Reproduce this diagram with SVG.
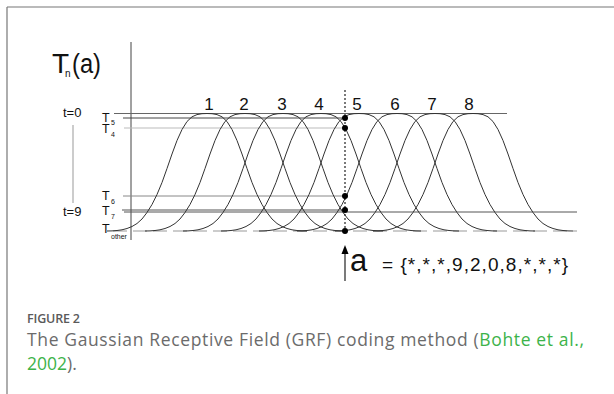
<svg xmlns="http://www.w3.org/2000/svg" xmlns:xlink="http://www.w3.org/1999/xlink" width="614" height="394" viewBox="0 0 614 394">
<style>
.lbl{font-family:"Liberation Sans",Arial,sans-serif;fill:#111}
.cap{font-family:"Open Sans","Liberation Sans",sans-serif}
.crv{fill:none;stroke:#333;stroke-width:1;stroke-linejoin:round}
.lvl{stroke-width:1;fill:none}
</style>
<defs>
<path id="rf" d="M-100,0 L-95,-0.1 L-90,-0.5 L-85,-1.2 L-80,-2.5 L-75,-4.5 L-70,-7.5 L-65,-12 L-60,-18.5 L-55,-26.5 L-50,-36.5 L-45,-48.5 L-40,-62.5 L-35,-77 L-30,-90.5 L-25,-101.5 L-20,-109.5 L-15,-114.2 L-10,-116.4 L-5,-117.3 L0,-117.5 L5,-117.3 L10,-116.4 L15,-114.2 L20,-109.5 L25,-101.5 L30,-90.5 L35,-77 L40,-62.5 L45,-48.5 L50,-36.5 L55,-26.5 L60,-18.5 L65,-12 L70,-7.5 L75,-4.5 L80,-2.5 L85,-1.2 L90,-0.5 L95,-0.1 L100,0"/>
</defs>
<rect width="614" height="394" fill="#fff"/>
<g id="frame" stroke="#777" stroke-width="1.2">
<line x1="7" y1="7" x2="614" y2="7"/>
<line x1="7" y1="7" x2="7" y2="394"/>
</g>
<g id="axis-labels">
<text class="lbl" x="52" y="73" font-size="28">T</text>
<text class="lbl" x="65" y="77" font-size="10">n</text>
<text class="lbl" x="72" y="73" font-size="27" textLength="29" lengthAdjust="spacingAndGlyphs">(a)</text>
<text class="lbl" x="63" y="117" font-size="13">t=0</text>
<text class="lbl" x="63" y="216" font-size="13">t=9</text>
<line x1="73" y1="125" x2="73" y2="203" stroke="#999" stroke-width="1"/>
</g>
<g id="level-labels">
<text class="lbl" x="102" y="121.5" font-size="12.5">T</text><text class="lbl" x="111" y="125" font-size="7">5</text>
<text class="lbl" x="102" y="133" font-size="12.5">T</text><text class="lbl" x="111" y="137" font-size="7">4</text>
<text class="lbl" x="102" y="200" font-size="12.5">T</text><text class="lbl" x="111" y="204" font-size="7">6</text>
<text class="lbl" x="102" y="215" font-size="12.5">T</text><text class="lbl" x="111" y="219" font-size="7">7</text>
<text class="lbl" x="102" y="233" font-size="12.5">T</text><text class="lbl" x="111" y="239" font-size="7">other</text>
</g>
<g id="grid">
<line x1="131" y1="42" x2="131" y2="240" stroke="#444" stroke-width="1"/>
<line class="lvl" x1="114" y1="113.5" x2="507" y2="113.5" stroke="#666"/>
<line class="lvl" x1="123" y1="118" x2="345" y2="118" stroke="#444"/>
<line class="lvl" x1="124" y1="128" x2="345" y2="128" stroke="#bbb"/>
<line class="lvl" x1="123" y1="196" x2="345" y2="196" stroke="#888"/>
<line class="lvl" x1="122" y1="210" x2="345" y2="210" stroke="#555"/>
<line class="lvl" x1="124" y1="212" x2="577" y2="212" stroke="#555"/>
<line class="lvl" x1="113" y1="231" x2="577" y2="231" stroke="#999" stroke-dasharray="14 6"/>
</g>
<g id="curves" class="crv">
<use xlink:href="#rf" href="#rf" class="crv" transform="translate(207,231)"/>
<use xlink:href="#rf" href="#rf" class="crv" transform="translate(245,231)"/>
<use xlink:href="#rf" href="#rf" class="crv" transform="translate(283,231)"/>
<use xlink:href="#rf" href="#rf" class="crv" transform="translate(321,231)"/>
<use xlink:href="#rf" href="#rf" class="crv" transform="translate(359,231)"/>
<use xlink:href="#rf" href="#rf" class="crv" transform="translate(397,231)"/>
<use xlink:href="#rf" href="#rf" class="crv" transform="translate(435,231)"/>
<use xlink:href="#rf" href="#rf" class="crv" transform="translate(473,231)"/>
</g>
<g id="neuron-labels" font-size="17" text-anchor="middle">
<text class="lbl" x="209" y="110">1</text>
<text class="lbl" x="244" y="110">2</text>
<text class="lbl" x="282" y="110">3</text>
<text class="lbl" x="319" y="110">4</text>
<text class="lbl" x="357" y="110">5</text>
<text class="lbl" x="395" y="110">6</text>
<text class="lbl" x="432" y="110">7</text>
<text class="lbl" x="469" y="110">8</text>
</g>
<g id="sample">
<line x1="345" y1="90" x2="345" y2="234" stroke="#222" stroke-width="1.2" stroke-dasharray="2 2"/>
<g fill="#000">
<circle cx="345" cy="118" r="3"/>
<circle cx="345" cy="128" r="3"/>
<circle cx="345" cy="196" r="3"/>
<circle cx="345" cy="210" r="3"/>
<circle cx="345" cy="231" r="3"/>
</g>
</g>
<g id="input">
<line x1="345" y1="281" x2="345" y2="252" stroke="#222" stroke-width="1.2"/>
<polygon points="345,245 341.5,254 348.5,254" fill="#000"/>
<text class="lbl" x="350" y="271" font-size="31">a</text>
<text class="lbl" x="382" y="271" font-size="19" textLength="186" lengthAdjust="spacing">= {*,*,*,9,2,0,8,*,*,*}</text>
</g>
<g id="caption">
<text class="cap" x="27" y="323" font-size="12.5" font-weight="600" fill="#5a5a5a" textLength="53">FIGURE 2</text>
<text class="cap" x="27" y="346" font-size="17.5" fill="#6b6b6b" textLength="557" lengthAdjust="spacing">The Gaussian Receptive Field (GRF) coding method (<tspan fill="#3db34a">Bohte et al.,</tspan></text>
<text class="cap" x="27" y="370" font-size="17.5" fill="#6b6b6b"><tspan fill="#3db34a">2002</tspan>).</text>
</g>
</svg>
